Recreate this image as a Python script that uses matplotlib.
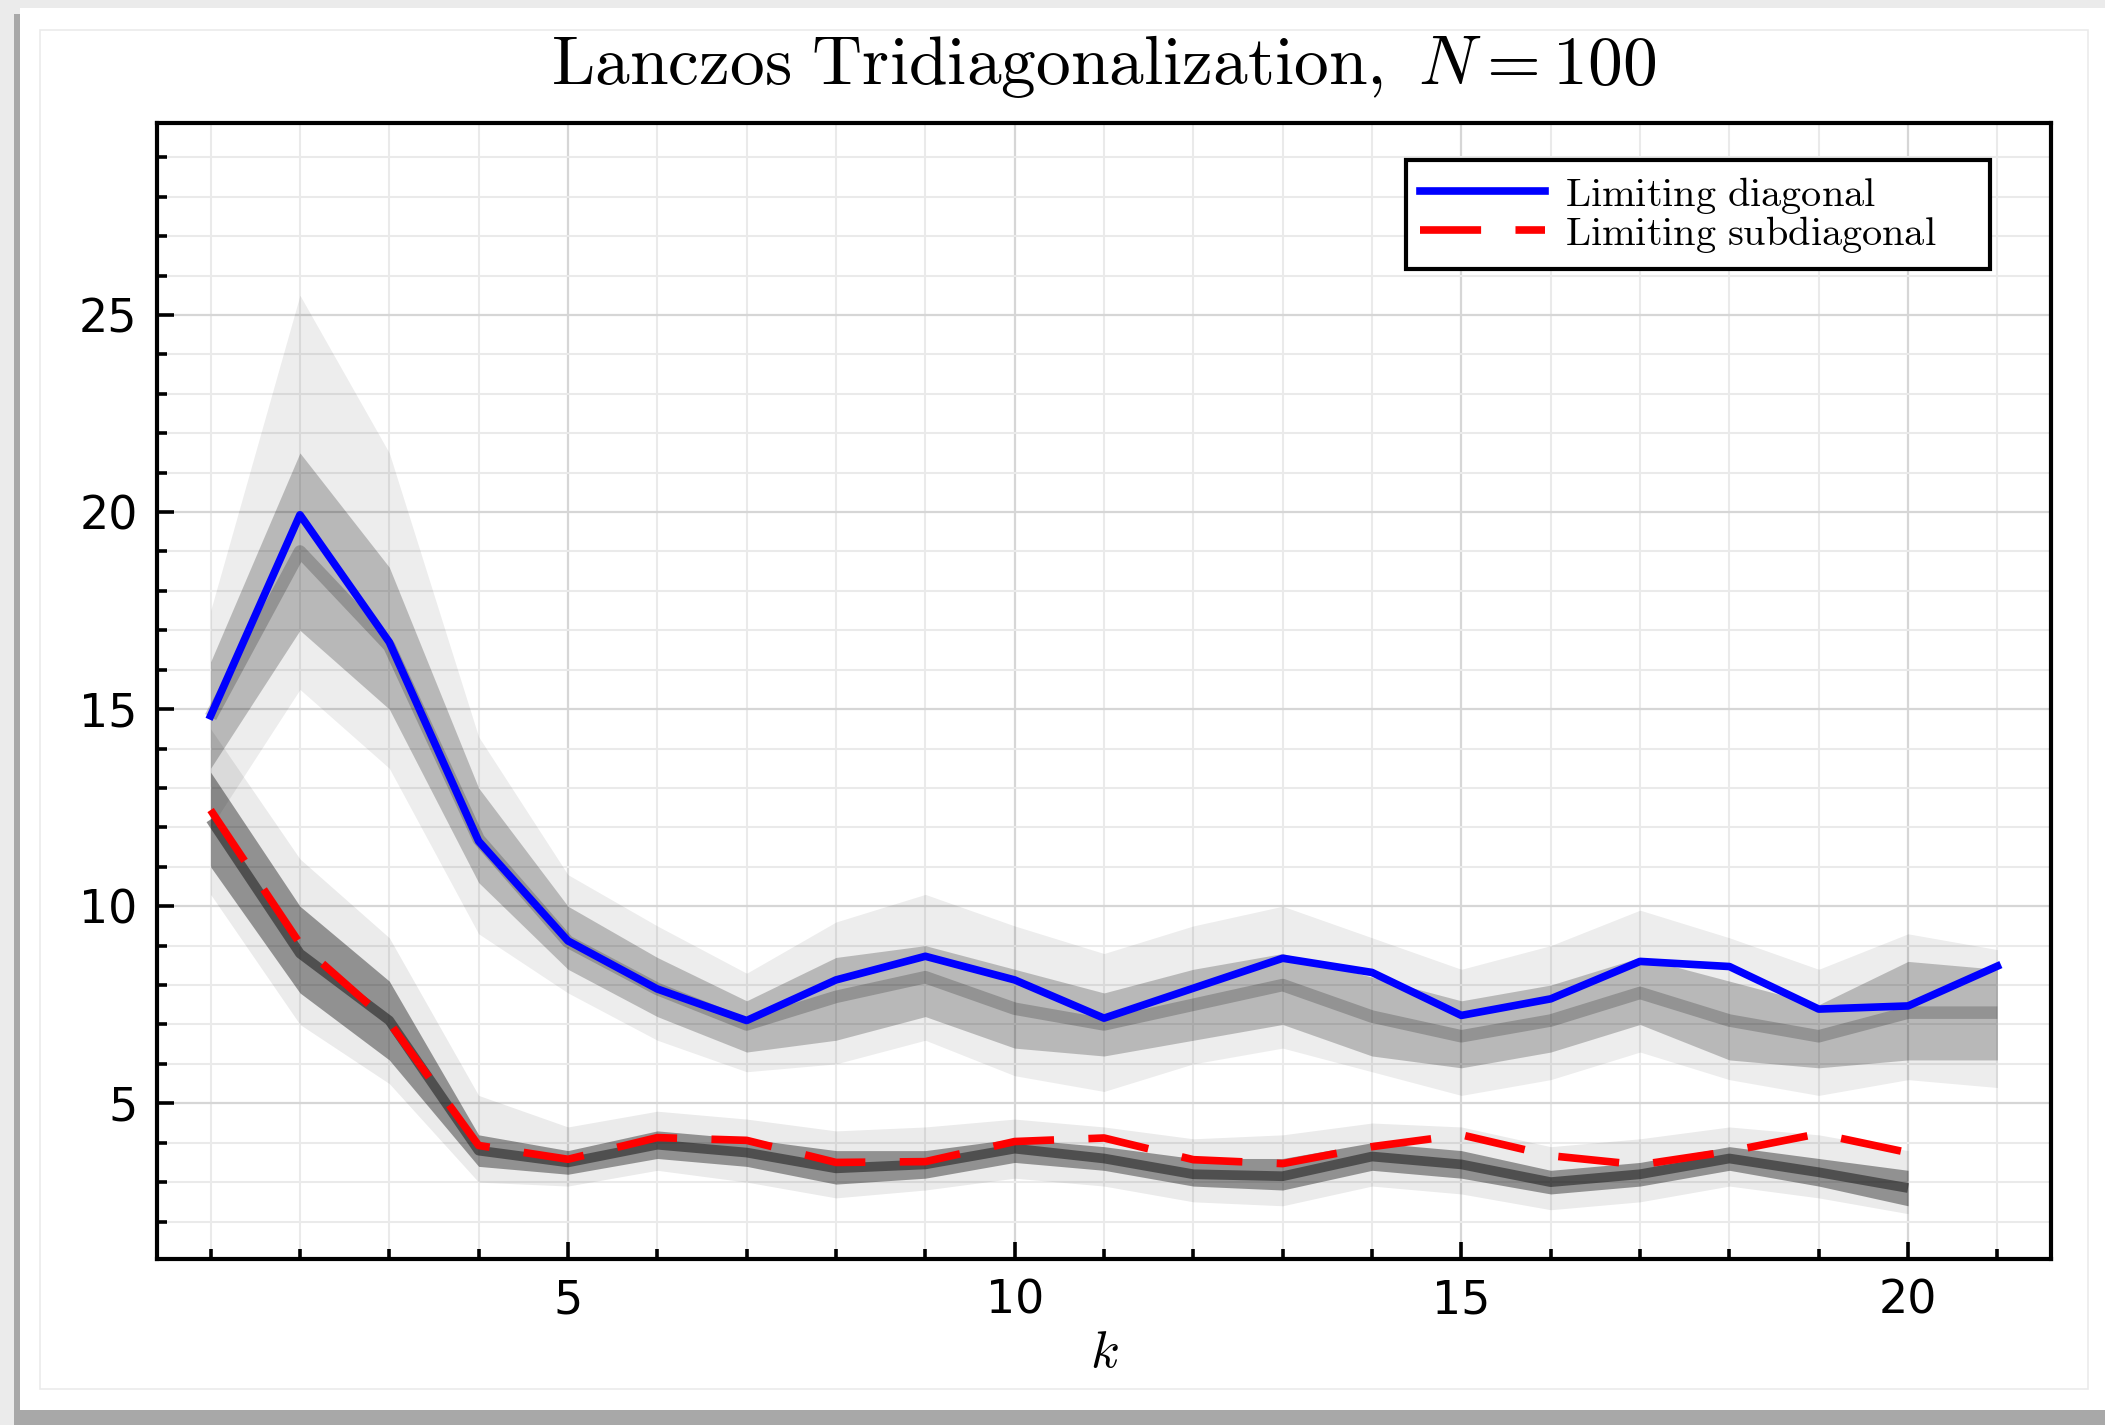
import matplotlib
matplotlib.use("Agg")
import matplotlib.pyplot as plt
from matplotlib.patches import Rectangle
from matplotlib.ticker import MultipleLocator

plt.rcParams['mathtext.fontset'] = 'cm'

# index along the tridiagonal
k_diag = list(range(1, 22))
k_sub = list(range(1, 21))

# limiting curves
limit_diag = [14.83, 19.93, 16.70, 11.65, 9.12, 7.90, 7.10, 8.13, 8.73, 8.13, 7.16,
              7.92, 8.68, 8.32, 7.23, 7.65, 8.60, 8.47, 7.39, 7.47, 8.48]
limit_sub = [12.44, 9.05, 7.05, 3.93, 3.58, 4.13, 4.06, 3.50, 3.52, 4.03,
             4.12, 3.57, 3.47, 3.90, 4.20, 3.67, 3.44, 3.78, 4.23, 3.75]

diag_outer_lo = [12.0, 15.5, 13.5, 9.3, 7.8, 6.6, 5.8, 6.0, 6.6, 5.7, 5.3,
                 6.0, 6.4, 5.8, 5.2, 5.6, 6.3, 5.6, 5.2, 5.6, 5.4]
diag_outer_hi = [17.5, 25.5, 21.5, 14.3, 10.8, 9.5, 8.3, 9.6, 10.3, 9.5, 8.8,
                 9.5, 10.0, 9.2, 8.4, 9.0, 9.9, 9.2, 8.4, 9.3, 8.9]
diag_inner_lo = [13.5, 17.0, 15.0, 10.6, 8.4, 7.2, 6.3, 6.6, 7.2, 6.4, 6.2,
                 6.6, 7.0, 6.2, 5.9, 6.3, 7.0, 6.1, 5.9, 6.1, 6.1]
diag_inner_hi = [16.2, 21.5, 18.6, 13.0, 10.0, 8.7, 7.6, 8.7, 9.0, 8.4, 7.8,
                 8.4, 8.8, 8.2, 7.6, 8.0, 8.7, 8.1, 7.5, 8.6, 8.4]
diag_mid = [14.8, 19.0, 16.6, 11.7, 9.1, 7.9, 7.0, 7.7, 8.2, 7.4, 7.0,
            7.5, 8.0, 7.2, 6.7, 7.1, 7.8, 7.1, 6.7, 7.3, 7.3]

# spread of the sampled subdiagonals
sub_outer_lo = [10.3, 7.0, 5.5, 3.0, 2.9, 3.3, 3.0, 2.6, 2.8, 3.1,
                2.9, 2.5, 2.4, 2.9, 2.7, 2.3, 2.5, 2.9, 2.6, 2.2]
sub_outer_hi = [14.5, 11.2, 9.2, 5.2, 4.4, 4.8, 4.6, 4.3, 4.4, 4.6,
                4.4, 4.1, 4.2, 4.5, 4.4, 3.9, 4.1, 4.4, 4.2, 3.8]
sub_inner_lo = [11.0, 7.8, 6.1, 3.4, 3.2, 3.6, 3.4, 2.95, 3.1, 3.5,
                3.3, 2.9, 2.8, 3.3, 3.1, 2.7, 2.9, 3.3, 2.9, 2.4]
sub_inner_hi = [13.4, 10.0, 8.1, 4.2, 3.8, 4.3, 4.1, 3.8, 3.8, 4.1,
                3.9, 3.6, 3.6, 4.0, 3.8, 3.3, 3.5, 3.9, 3.6, 3.3]
sub_mid = [12.2, 8.8, 7.1, 3.8, 3.5, 3.95, 3.75, 3.35, 3.45, 3.85,
           3.6, 3.2, 3.15, 3.65, 3.45, 3.0, 3.2, 3.6, 3.25, 2.85]

W, H = 2105, 1425
fig = plt.figure(figsize=(W / 100, H / 100), dpi=100, facecolor='#ebebeb')

# card with shadow
fig.patches.append(Rectangle((14 / W, 0), 1, 1 - 14 / H, transform=fig.transFigure,
                             facecolor='#a8a8a8', edgecolor='none', zorder=-3))
fig.patches.append(Rectangle((20 / W, 15 / H), 1, 1 - 8 / H - 15 / H, transform=fig.transFigure,
                             facecolor='white', edgecolor='none', zorder=-2))
fig.patches.append(Rectangle((40 / W, 1 - 1389 / H), (2088 - 40) / W, (1389 - 30) / H,
                             transform=fig.transFigure, facecolor='none',
                             edgecolor='#ebebeb', lw=1.2, zorder=-1))

ax = fig.add_axes([157 / W, 1 - 1259 / H, (2051 - 157) / W, (1259 - 123) / H])
ax.set_facecolor('white')

# grey clouds of samples
ax.fill_between(k_diag, diag_outer_lo, diag_outer_hi, color='black', alpha=0.07, lw=0, zorder=1)
ax.fill_between(k_diag, diag_inner_lo, diag_inner_hi, color='black', alpha=0.22, lw=0, zorder=1)
ax.plot(k_diag, diag_mid, color='black', alpha=0.2, lw=9, solid_joinstyle='round',
        solid_capstyle='butt', zorder=1)

ax.fill_between(k_sub, sub_outer_lo, sub_outer_hi, color='black', alpha=0.08, lw=0, zorder=1)
ax.fill_between(k_sub, sub_inner_lo, sub_inner_hi, color='black', alpha=0.38, lw=0, zorder=1)
ax.plot(k_sub, sub_mid, color='black', alpha=0.45, lw=7, solid_joinstyle='round',
        solid_capstyle='butt', zorder=1)

ax.plot(k_diag, limit_diag, color='#0000ff', lw=5.5, zorder=3,
        label=r'$\mathrm{Limiting\ diagonal}$')
ax.plot(k_sub, limit_sub, color='#ff0000', lw=5.5, ls=(0, (8, 4.5)), zorder=3,
        label=r'$\mathrm{Limiting\ subdiagonal}$')

ax.set_xlim(0.4, 21.6)
ax.set_ylim(1.05, 29.87)
ax.xaxis.set_major_locator(MultipleLocator(5))
ax.xaxis.set_minor_locator(MultipleLocator(1))
ax.yaxis.set_major_locator(MultipleLocator(5))
ax.yaxis.set_minor_locator(MultipleLocator(1))

ax.grid(which='major', color='#d6d6d6', lw=1.6, zorder=0)
ax.grid(which='minor', color='#eaeaea', lw=1.5, zorder=0)
ax.set_axisbelow(True)

ax.tick_params(which='both', direction='in', top=False, right=False, width=2.6,
               labelsize=33, pad=14)
ax.tick_params(which='major', length=12)
ax.tick_params(which='minor', length=7)
for s in ax.spines.values():
    s.set_linewidth(3)

ax.set_title(r'$\mathrm{Lanczos\ Tridiagonalization,}\ N = 100$', fontsize=50, pad=28)
ax.set_xlabel(r'$k$', fontsize=38, labelpad=2)

leg = ax.legend(loc='upper left', bbox_to_anchor=(0.6595, 0.870, 0.3083, 0.097),
                mode='expand', borderaxespad=0,
                fontsize=29, frameon=True, fancybox=False, framealpha=1,
                edgecolor='black', handlelength=3.1, handletextpad=0.5,
                labelspacing=-0.05, borderpad=0.35)
leg.get_frame().set_linewidth(3)

fig.savefig('out.png', dpi=100, facecolor=fig.get_facecolor())
